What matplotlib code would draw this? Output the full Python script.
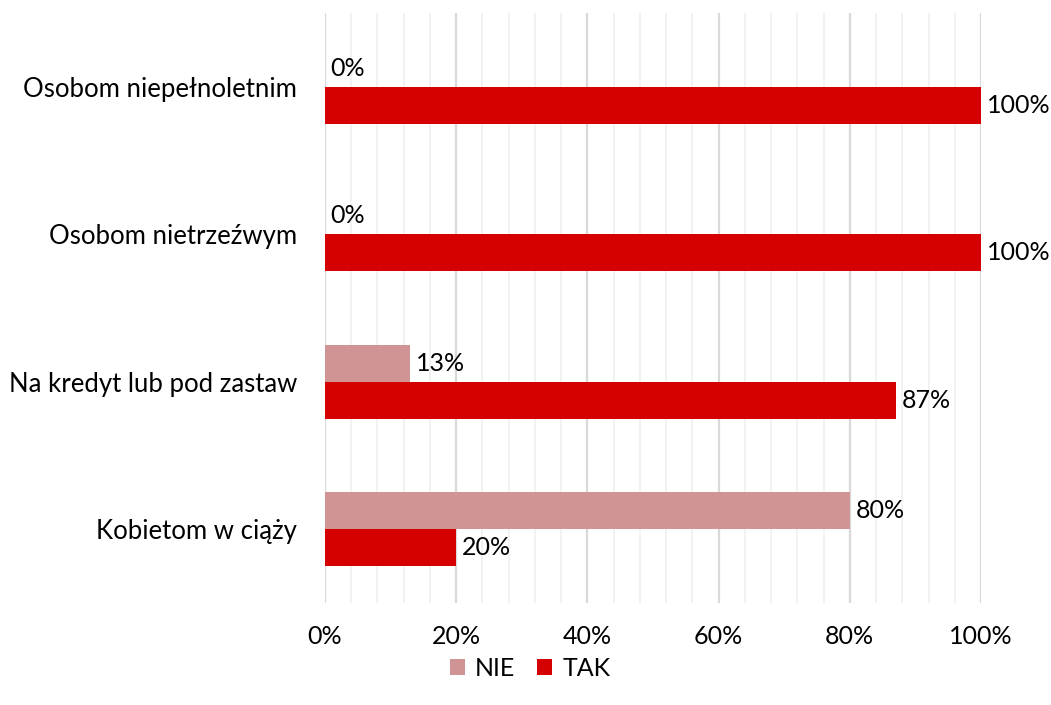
import matplotlib
matplotlib.use('Agg')
import matplotlib.pyplot as plt
from matplotlib.ticker import MultipleLocator, FuncFormatter
import numpy as np

plt.rcParams['font.family'] = ['Lato', 'DejaVu Sans']

# dane
categories = ['Osobom niepełnoletnim', 'Osobom nietrzeźwym',
              'Na kredyt lub pod zastaw', 'Kobietom w ciąży']
nie = [0, 0, 13, 80]
tak = [100, 100, 87, 20]
series_names = ['NIE', 'TAK']
colors = ['#D09494', '#D50000']

fig = plt.figure(figsize=(10.51, 7.05), dpi=100)
ax = fig.add_axes([325 / 1051, 1 - 603 / 705, 656 / 1051, 590 / 705])

y = np.arange(len(categories))
h = 0.25
bars_nie = ax.barh(y - h / 2, nie, height=h, color=colors[0], label=series_names[0], zorder=3)
bars_tak = ax.barh(y + h / 2, tak, height=h, color=colors[1], label=series_names[1], zorder=3)

# etykiety wartości
for bars, vals in [(bars_nie, nie), (bars_tak, tak)]:
    for b, v in zip(bars, vals):
        ax.annotate(f'{v}%', xy=(v, b.get_y() + b.get_height() / 2),
                    xytext=(4, 0), textcoords='offset points',
                    ha='left', va='center', fontsize=18, color='#000000')

ax.set_xlim(0, 100)
ax.set_ylim(len(categories) - 0.5, -0.5)
ax.set_yticks(y)
ax.set_yticklabels(categories, fontsize=18.5)
ax.xaxis.set_major_locator(MultipleLocator(20))
ax.xaxis.set_minor_locator(MultipleLocator(4))
ax.xaxis.set_major_formatter(FuncFormatter(lambda v, p: f'{v:.0f}%'))
ax.tick_params(axis='x', labelsize=18, length=0, pad=16, which='both')
ax.tick_params(axis='y', length=0, pad=20)
ax.grid(True, axis='x', which='major', color='#D9D9D9', linewidth=1.6, zorder=0)
ax.grid(True, axis='x', which='minor', color='#F0F0F0', linewidth=1.2, zorder=0)
for s in ax.spines.values():
    s.set_visible(False)

fig.legend(handles=[bars_nie, bars_tak], labels=series_names,
           loc='center', bbox_to_anchor=(530 / 1051, 1 - 668 / 705), ncol=2, frameon=False,
           fontsize=18, handlelength=0.6, handleheight=0.6, handletextpad=0.4,
           columnspacing=0.9)

plt.savefig('out.png', dpi=100, facecolor='white')
